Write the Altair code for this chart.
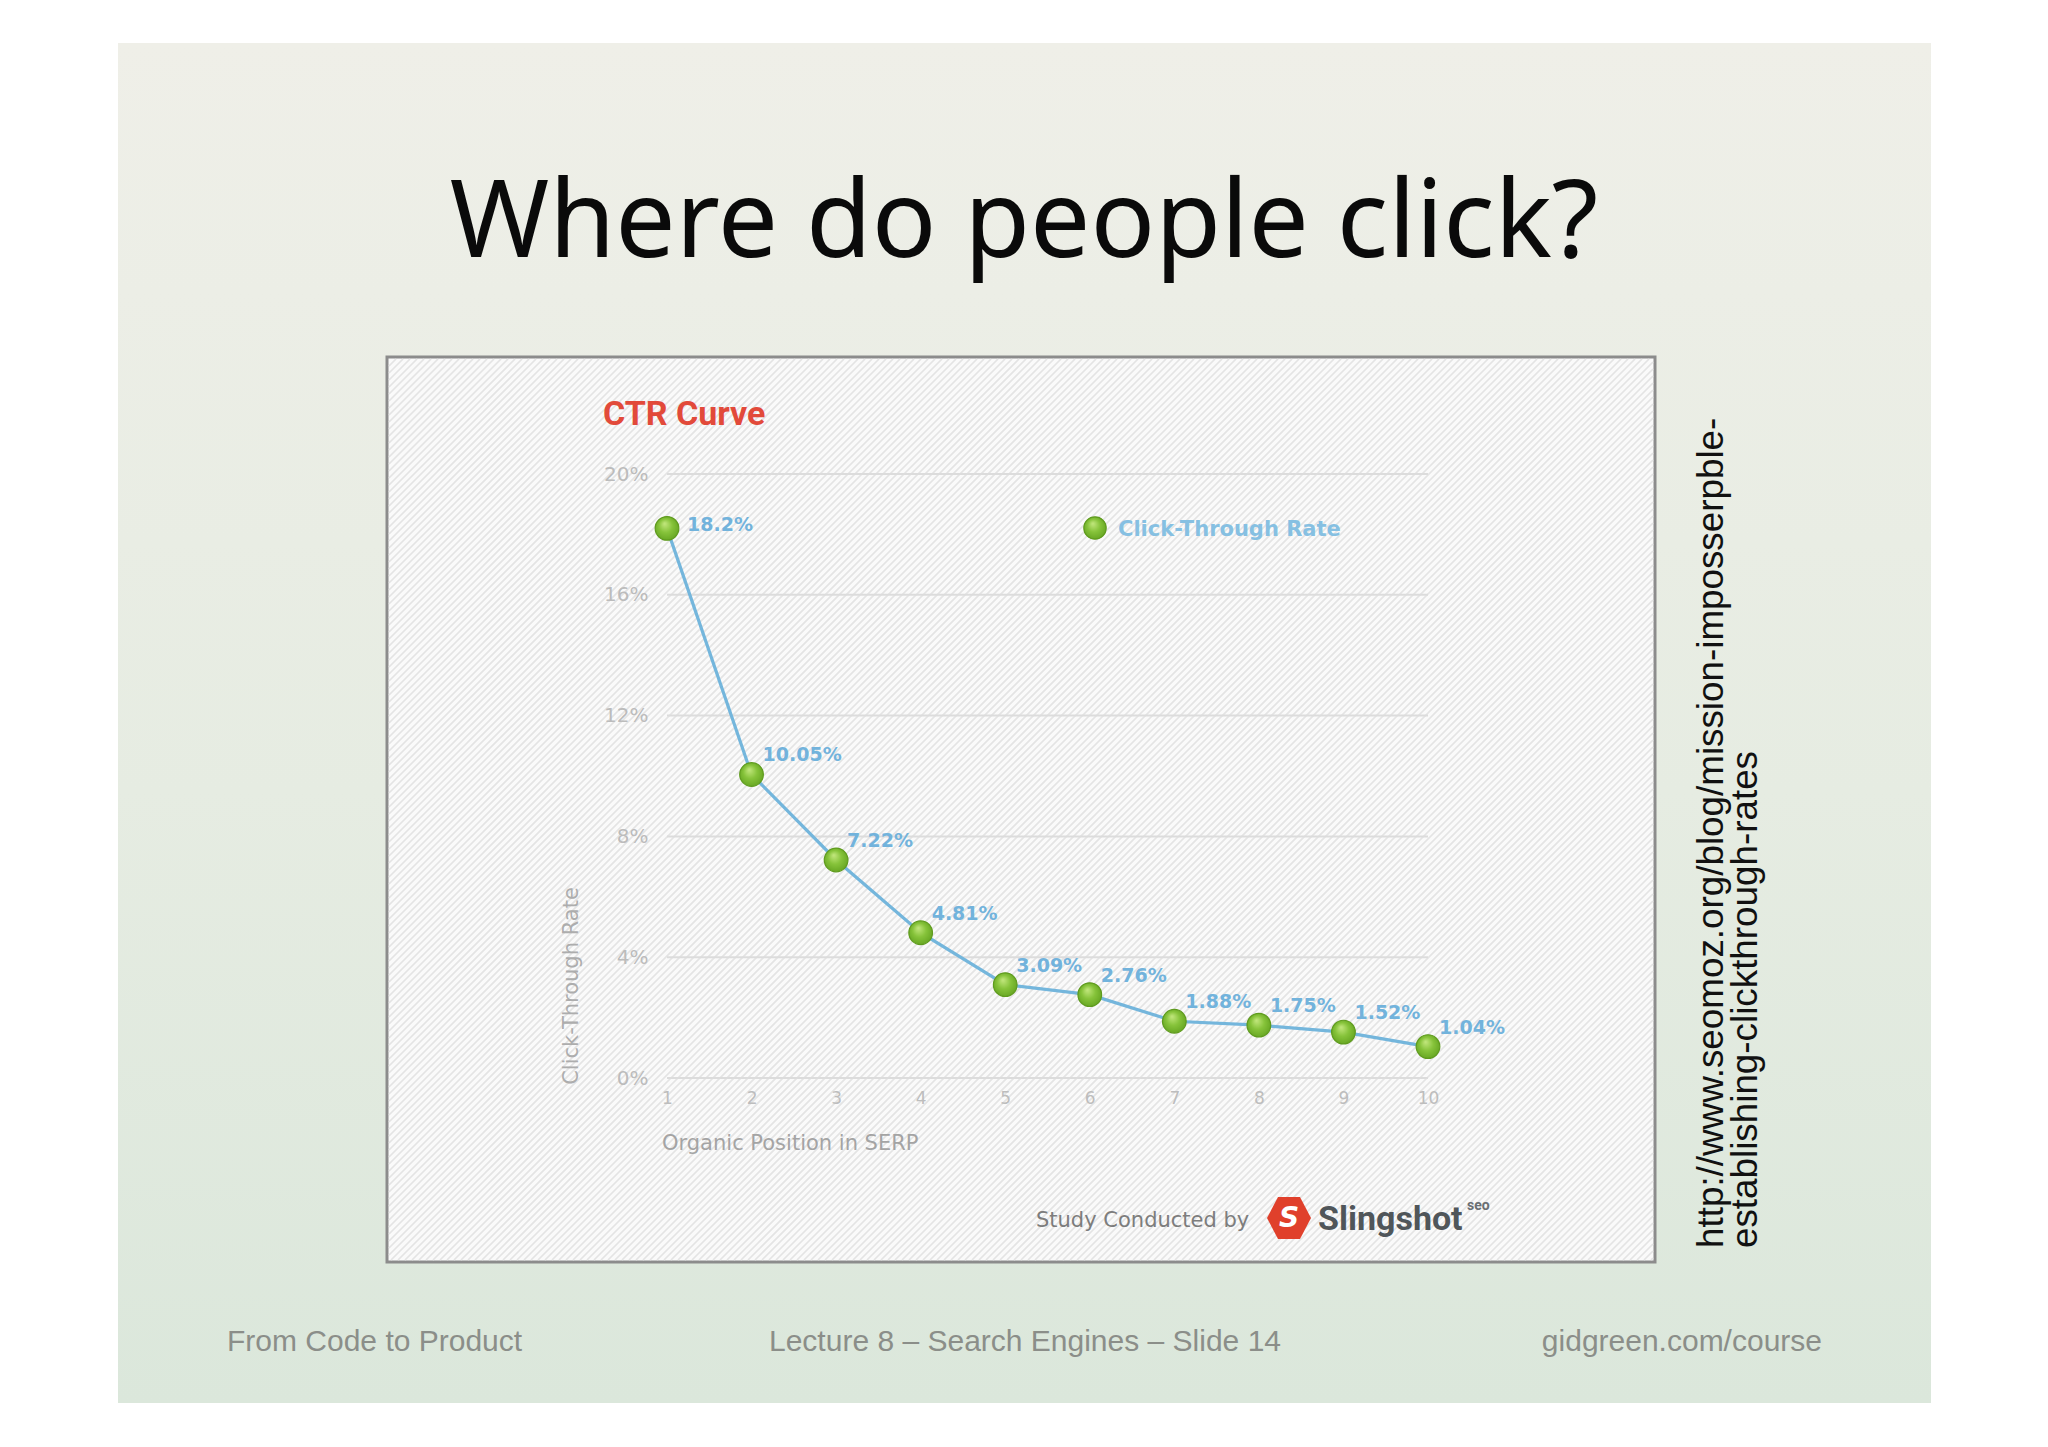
import altair as alt
import pandas as pd

# ---------------- data ----------------
positions = [1, 2, 3, 4, 5, 6, 7, 8, 9, 10]
ctr_values = [18.2, 10.05, 7.22, 4.81, 3.09, 2.76, 1.88, 1.75, 1.52, 1.04]
ctr_labels = ["18.2%", "10.05%", "7.22%", "4.81%", "3.09%", "2.76%", "1.88%", "1.75%", "1.52%", "1.04%"]
y_ticks = [0, 4, 8, 12, 16, 20]

slide_title = "Where do people click?"
chart_title = "CTR Curve"
legend_label = "Click-Through Rate"
x_title = "Organic Position in SERP"
y_title = "Click-Through Rate"
credit_text = "Study Conducted by"
brand_text = "Slingshot"
brand_sup = "seo"
footer_left = "From Code to Product"
footer_mid = "Lecture 8 \u2013 Search Engines \u2013 Slide 14"
footer_right = "gidgreen.com/course"
url_line1 = "http://www.seomoz.org/blog/mission-imposserpble-"
url_line2 = "establishing-clickthrough-rates"

df = pd.DataFrame({"pos": positions, "ctr": ctr_values, "lab": ctr_labels})
grid_df = pd.DataFrame({"v": y_ticks})

# ---------------- layout (page px) ----------------
OX, OY = 667, 474          # plot origin on the page
W, H = 761, 604            # plot area


def px(x):
    return x - OX


def py(y):
    return y - OY


def text_mark(t, x, y, size, color, font, weight="normal", align="left",
              baseline="middle", angle=0, style=None):
    kw = dict(align=align, baseline=baseline, fontSize=size, color=color,
              font=font, fontWeight=weight, angle=angle)
    if style:
        kw["fontStyle"] = style
    return alt.Chart(pd.DataFrame({"t": [t]})).mark_text(**kw).encode(
        x=alt.value(px(x)), y=alt.value(py(y)), text="t:N")


def rect_mark(x1, y1, x2, y2, **kw):
    return alt.Chart(pd.DataFrame({"a": [0]})).mark_rect(**kw).encode(
        x=alt.value(px(x1)), x2=alt.value(px(x2)),
        y=alt.value(py(y1)), y2=alt.value(py(y2)))


slide_bg = rect_mark(
    118, 43, 1931, 1403,
    color=alt.LinearGradient(
        gradient="linear",
        stops=[alt.GradientStop(color="#efefe8", offset=0),
               alt.GradientStop(color="#e6ece2", offset=0.55),
               alt.GradientStop(color="#dbe7db", offset=1)],
        x1=0, x2=0, y1=0, y2=1))

frame = rect_mark(387, 357, 1655, 1262, fill="#fafafa", stroke="#8c8c8c", strokeWidth=3)

# diagonal hatching of the embedded picture background
fx0, fy0, fx1, fy1 = px(389), py(359), px(1653), py(1260)
hatch = alt.Chart(alt.sequence(fx0 + fy0, fx1 + fy1, 7, as_="c")).transform_calculate(
    xa=f"max({fx0}, datum.c - ({fy1}))",
    xb=f"min({fx1}, datum.c - ({fy0}))",
).transform_calculate(
    ya="datum.c - datum.xa",
    yb="datum.c - datum.xb",
).mark_rule(color="#e4e4e4", strokeWidth=1.7).encode(
    x=alt.X("xa:Q", scale=None, axis=None), x2="xb:Q",
    y=alt.Y("ya:Q", scale=None, axis=None), y2="yb:Q")

# ---------------- data chart ----------------
xs = alt.Scale(domain=[1, 10], nice=False, zero=False)
ys = alt.Scale(domain=[0, 20], nice=False)

grid = alt.Chart(grid_df).mark_rule(color="#dcdcdc", strokeWidth=2).encode(
    y=alt.Y("v:Q", scale=ys, axis=alt.Axis(
        values=y_ticks, labelExpr="datum.value + '%'", title=None, grid=False,
        ticks=False, domain=False, labelPadding=19, labelFontSize=20,
        labelColor="#bcbcbc", labelFont="DejaVu Sans", labelFlush=False, zindex=1)),
    x=alt.value(0), x2=alt.value(W))

green = alt.RadialGradient(
    gradient="radial",
    stops=[alt.GradientStop(color="#bfe57a", offset=0),
           alt.GradientStop(color="#86c33a", offset=0.45),
           alt.GradientStop(color="#5e9e1c", offset=1)],
    x1=0.4, y1=0.3, r1=0.02, x2=0.5, y2=0.5, r2=0.62)

base = alt.Chart(df).encode(
    x=alt.X("pos:Q", scale=xs, axis=alt.Axis(
        values=positions, format="d", title=None, grid=False, ticks=False,
        domain=False, labelPadding=12, labelFontSize=17, labelColor="#bdbdbd",
        labelFont="DejaVu Sans", labelFlush=False, zindex=1)),
    y=alt.Y("ctr:Q", scale=ys))

line = base.mark_line(color="#74b6dc", strokeWidth=3.2)
points = base.mark_point(filled=True, size=560, fill=green, stroke="#5f9b1e",
                         strokeWidth=1.2, opacity=1)
lab_first = base.transform_filter("datum.pos == 1").mark_text(
    align="left", baseline="middle", dx=20, dy=-3, fontSize=19,
    fontWeight="bold", font="DejaVu Sans", color="#72b3dc").encode(text="lab:N")
lab_rest = base.transform_filter("datum.pos > 1").mark_text(
    align="left", baseline="middle", dx=11, dy=-19, fontSize=19,
    fontWeight="bold", font="DejaVu Sans", color="#72b3dc").encode(text="lab:N")

data_group = alt.layer(grid, line, points, lab_first, lab_rest)

# legend
legend_dot = alt.Chart(pd.DataFrame({"a": [0]})).mark_point(
    filled=True, size=500, fill=green, stroke="#5f9b1e", strokeWidth=1.2, opacity=1).encode(
    x=alt.value(px(1095)), y=alt.value(py(528)))
legend_txt = text_mark(legend_label, 1118, 530, 21, "#86c0e2", "DejaVu Sans", weight="bold")

ctr_title = text_mark(chart_title, 603, 415, 34, "#e24a3a", "Roboto", weight="bold")
x_title_m = text_mark(x_title, 662, 1144, 21, "#a4a4a4", "DejaVu Sans")
y_title_m = text_mark(y_title, 572, 986, 21, "#adadad", "DejaVu Sans", align="center", angle=270)

credit = text_mark(credit_text, 1036, 1227, 21, "#7d7d7d", "DejaVu Sans", baseline="alphabetic")
hexagon = alt.Chart(pd.DataFrame({"a": [0]})).mark_point(
    shape="M-1,0L-0.5,-0.96L0.5,-0.96L1,0L0.5,0.96L-0.5,0.96Z",
    filled=True, size=1936, fill="#e0402b", opacity=1).encode(
    x=alt.value(px(1289)), y=alt.value(py(1218)))
hex_s = text_mark("S", 1289, 1219, 28, "white", "DejaVu Sans", weight="bold",
                  align="center", style="italic")
brand = text_mark(brand_text, 1318, 1230, 34, "#50565a", "Roboto", weight="bold",
                  baseline="alphabetic")
brand_s = text_mark(brand_sup, 1467, 1206, 14, "#6a6f73", "Roboto", weight="bold")

title_m = text_mark(slide_title, 1024, 257, 107, "#0a0a0a", "Noto Sans",
                    align="center", baseline="alphabetic")

foot_l = text_mark(footer_left, 227, 1342, 30, "#8b8e89", "Liberation Sans")
foot_m = text_mark(footer_mid, 1025, 1342, 30, "#8b8e89", "Liberation Sans", align="center")
foot_r = text_mark(footer_right, 1822, 1342, 30, "#8b8e89", "Liberation Sans", align="right")

url1 = text_mark(url_line1, 1712, 1248, 36.8, "#111111", "Liberation Sans", angle=270)
url2 = text_mark(url_line2, 1746, 1248, 36.8, "#111111", "Liberation Sans", angle=270)

chart = alt.layer(
    slide_bg, frame, hatch, data_group, legend_dot, legend_txt, ctr_title,
    x_title_m, y_title_m, credit, hexagon, hex_s, brand, brand_s, title_m,
    foot_l, foot_m, foot_r, url1, url2,
).resolve_scale(x="independent", y="independent").properties(
    width=W, height=H,
    autosize=alt.AutoSizeParams(type="none"),
    padding={"left": OX - 8, "top": OY - 8, "right": 2032 - (OX - 8) - W,
             "bottom": 1420 - (OY - 8) - H},
    background="white",
).configure_view(strokeWidth=0)

chart.save("out.html", embed_options={"renderer": "svg", "actions": False})
